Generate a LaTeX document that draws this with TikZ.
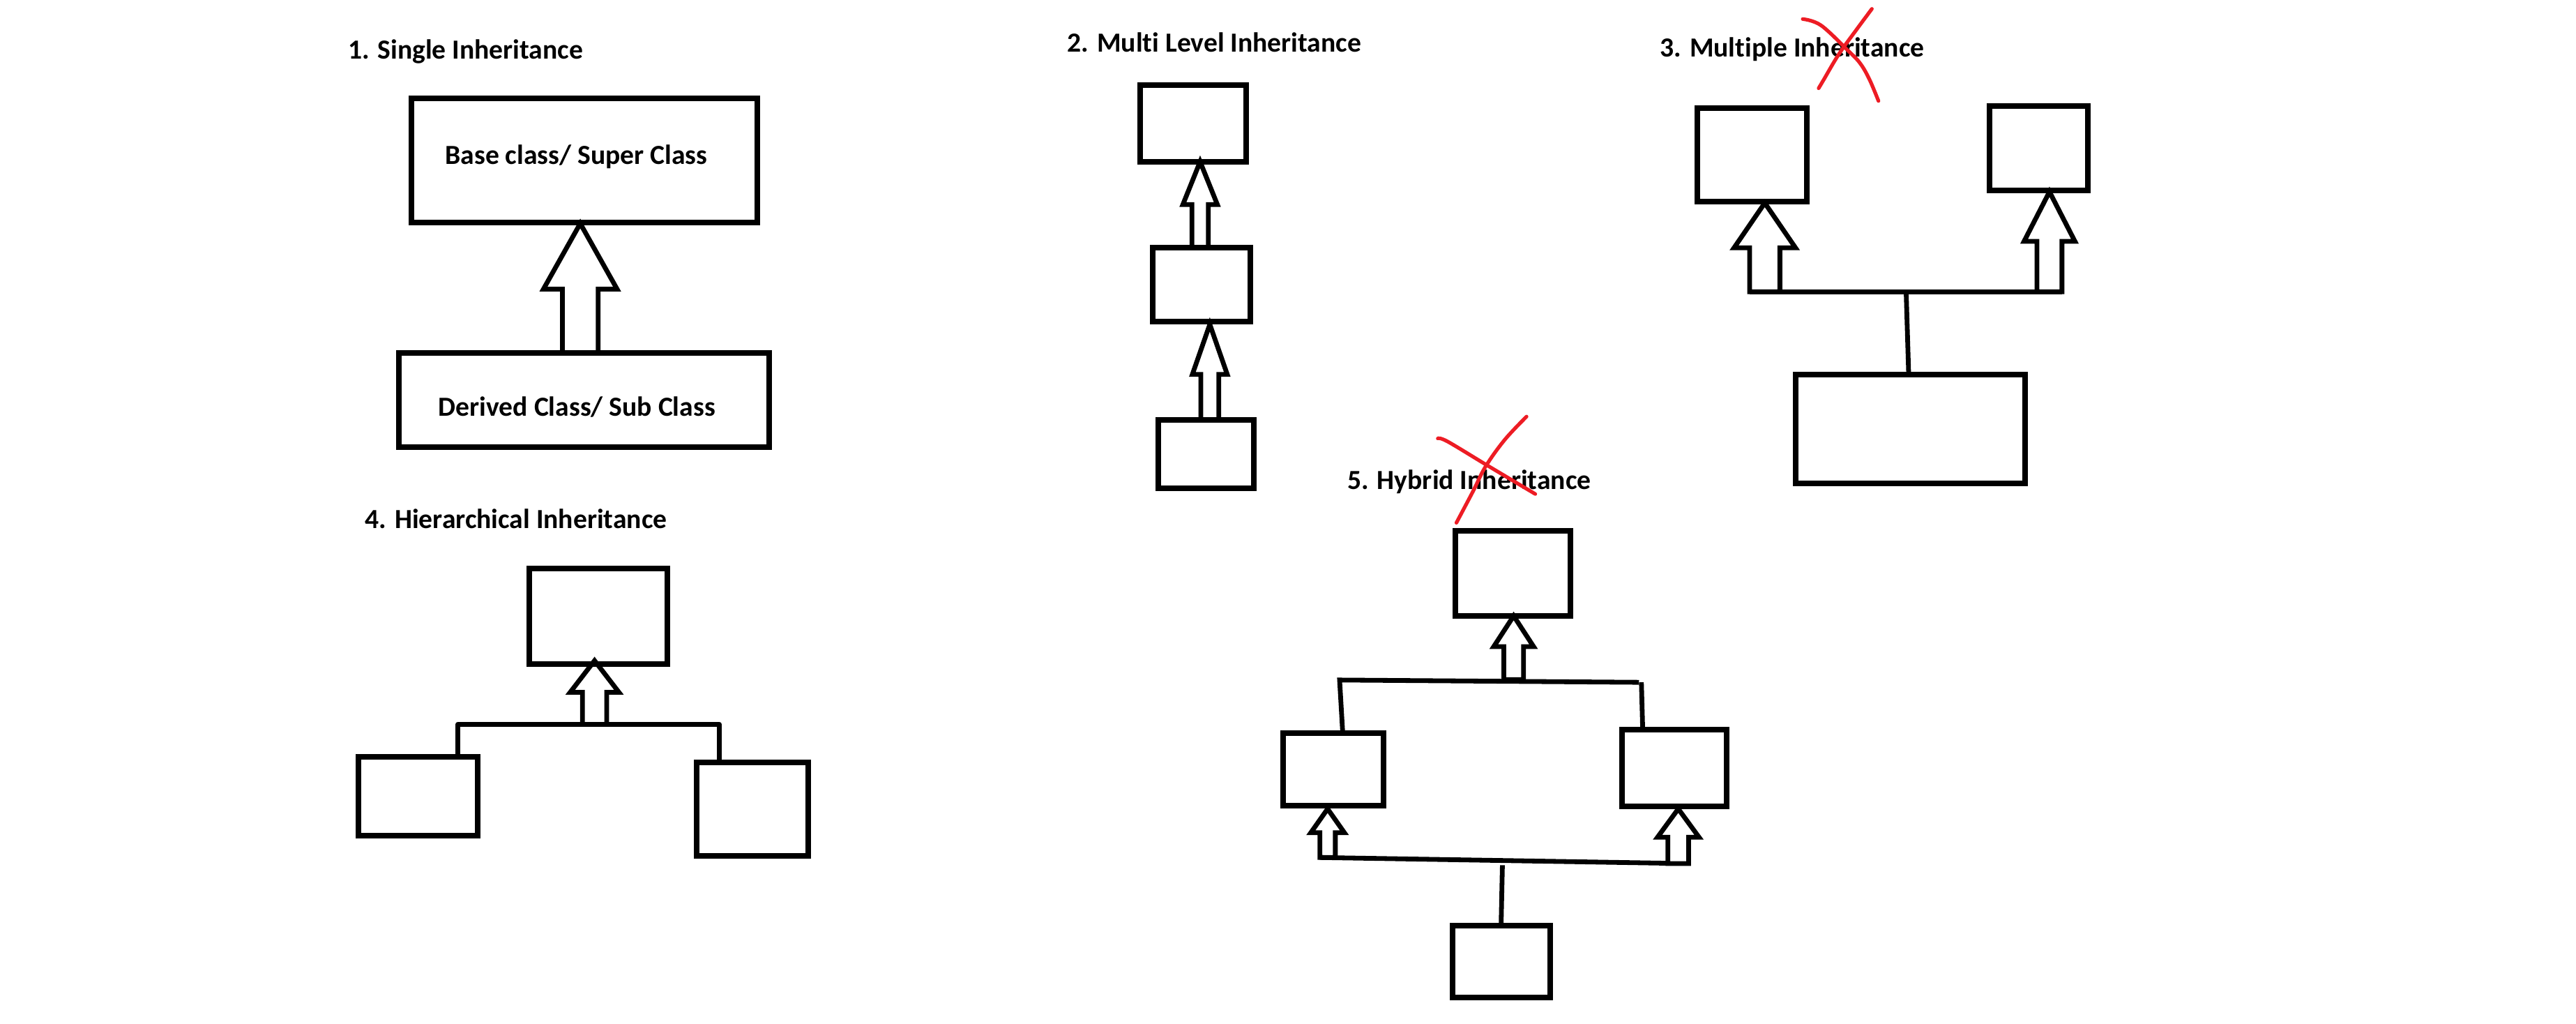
\documentclass[tikz,border=0pt]{standalone}
\usepackage{fontspec}
\setmainfont{Carlito}[Ligatures={NoCommon}]
\usetikzlibrary{fit}
\definecolor{paintred}{RGB}{237,28,36}
\tikzset{
  box/.style={draw=black, line width=2pt, inner sep=0pt, outer sep=0pt, fill=none},
  arr/.style={draw=black, line width=1.7pt, line join=miter},
  link/.style={draw=black, line width=1.7pt},
  ttl/.style={anchor=base west, inner sep=0pt, font=\fontsize{9.9pt}{12pt}\selectfont\bfseries},
  cross/.style={draw=paintred, line width=1.3pt, line cap=round},
}
\newcommand\hollowup[6]{%
  \draw[arr] (#1,#2) -- (#1+#4,#3) -- (#1+#5,#3) -- (#1+#5,#6) -- (#1-#5,#6) -- (#1-#5,#3) -- (#1-#4,#3) -- cycle;}
\newcommand\boxat[5]{%
  \coordinate (#1-nw) at (#2,#3); \coordinate (#1-se) at (#4,#5);
  \node[box, fit=(#1-nw)(#1-se)] (#1) {};}
\begin{document}
\begin{tikzpicture}[x=0.589pt, y=-0.589pt]
\useasboundingbox (0,0) rectangle (1568,623);
\fill[white] (0,0) rectangle (1568,623);

% ---------- 1. Single Inheritance
\node[ttl] (t1) at (211.5,35.8) {1. Single Inheritance};
\boxat{base}{250.5}{60}{460.9}{135.3}
\boxat{derived}{243}{214.8}{468}{272}
\node[ttl] (basetxt) at (270.7,99.8) {Base class/ Super Class};
\node[ttl] (derivedtxt) at (266.6,253.3) {Derived Class/ Sub Class};
\hollowup{353.2}{136}{175.9}{22.4}{10.9}{214.8}

% ---------- 2. Multi Level Inheritance
\node[ttl] (t2) at (649.4,31.7) {2. Multi Level Inheritance};
\boxat{mA}{694}{51.6}{758.5}{98.4}
\boxat{mB}{701.5}{150.5}{761}{195.7}
\boxat{mC}{705}{255.5}{763}{297}
\hollowup{730.5}{98.4}{124.5}{10.5}{5}{150.5}
\hollowup{736.4}{197.4}{227.8}{10.6}{5.5}{255.5}

% ---------- 3. Multiple Inheritance
\node[ttl] (t3) at (1010.1,34.8) {3. Multiple Inheritance};
\draw[cross] plot[smooth, tension=0.6] coordinates {(1097.3,11.6) (1108.4,15.4) (1125,30.9) (1132.3,38.6) (1137.9,48.3) (1143.4,61.4)};
\draw[cross] plot[smooth, tension=0.6] coordinates {(1139.4,5.4) (1130.5,17.4) (1119.4,32.8) (1110.2,48.3) (1107,53.7)};
\boxat{pL}{1033}{66}{1100}{122.5}
\boxat{pR}{1211}{64.6}{1271}{116}
\boxat{pC}{1093}{228}{1232.7}{294}
\hollowup{1074.2}{123.5}{150.8}{18.7}{9.2}{177.5}
\hollowup{1247.5}{116.7}{146.9}{15.5}{7.6}{177.5}
\coordinate (pbarL) at (1065,177.5);
\coordinate (pbarR) at (1255,177.5);
\coordinate (pbarM) at (1160.3,179);
\draw[link] (pbarL) -- (pbarR);
\draw[link] (pbarM) -- (pC.north -| 1161.8,0);

% ---------- 4. Hierarchical Inheritance
\node[ttl] (t4) at (221.9,321.6) {4. Hierarchical Inheritance};
\boxat{hT}{322}{346}{406.3}{404.3}
\boxat{hL}{218}{460.5}{290.7}{508.6}
\boxat{hR}{424.2}{464}{492}{521}
\hollowup{361.9}{402}{421.3}{14.85}{7.4}{440.8}
\coordinate (hbarL) at (278.6,440.8);
\coordinate (hbarR) at (437.9,440.8);
\draw[link, line join=round] (hL.north -| hbarL) -- (hbarL) -- (hbarR) -- (437.9,465.8);

% ---------- 5. Hybrid Inheritance
\node[ttl] (t5) at (819.9,297.8) {5. Hybrid Inheritance};
\draw[cross] plot[smooth, tension=0.6] coordinates {(875.2,266.8) (881,268.6) (904.3,282.6) (919.9,291.9) (934.5,300.6)};
\draw[cross] plot[smooth, tension=0.6] coordinates {(929.2,253.5) (916,267.5) (904.3,283.8) (896.6,299) (886.5,318.1)};
\boxat{yT}{885.9}{323}{955.8}{374.8}
\boxat{yL}{781}{446}{842.2}{490.3}
\boxat{yR}{987.3}{444.1}{1051}{490.8}
\boxat{yB}{884}{563.1}{943.6}{607}
\hollowup{921.35}{374.8}{393.5}{12.15}{6}{413.5}
\hollowup{808.1}{492.2}{506.7}{10.2}{4.7}{521.8}
\hollowup{1021.55}{492.2}{509.5}{12.65}{6.3}{525.5}
\coordinate (ybarL) at (815.4,413.8);
\coordinate (ybarR) at (997.6,415.2);
\draw[link] (yL.north -| 817.3,0) -- (ybarL) -- (ybarR);
\draw[link] (999.1,415.2) -- (yR.north -| 999.9,0);
\coordinate (ylowL) at (803.3,521.8);
\coordinate (ylowR) at (1015.1,525.3);
\draw[link] (ylowL) -- (ylowR);
\draw[link] (914.5,526.5) -- (yB.north -| 913.7,0);
\end{tikzpicture}
\end{document}
